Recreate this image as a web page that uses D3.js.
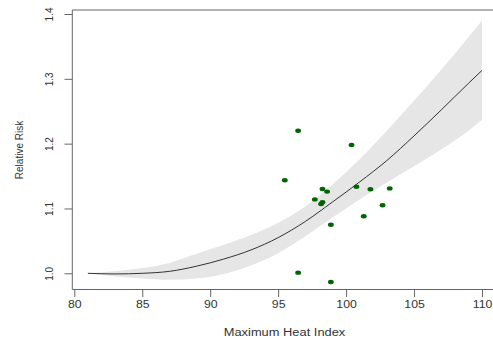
<!DOCTYPE html>
<html>
<head>
<meta charset="utf-8">
<script src="https://cdn.jsdelivr.net/npm/d3@7"></script>
<style>
  html, body { margin: 0; padding: 0; background: #fff; overflow: hidden; }
  text { font-family: "Liberation Sans", Arial, sans-serif; fill: #333; }
</style>
</head>
<body>
<div id="chart"></div>
<script>
// fitted curve and confidence band
const heatIndex = [81, 83, 85, 87, 89, 91, 93, 95, 97, 99, 101, 103, 105, 107, 109, 110];
const riskFit   = [1.000, 0.999, 1.000, 1.003, 1.011, 1.022, 1.036, 1.055, 1.080, 1.110, 1.141, 1.174, 1.212, 1.252, 1.293, 1.313];
const riskHigh  = [1.000, 1.003, 1.008, 1.016, 1.030, 1.044, 1.059, 1.078, 1.103, 1.137, 1.176, 1.220, 1.266, 1.314, 1.364, 1.390];
const riskLow   = [1.000, 0.995, 0.992, 0.990, 0.992, 0.999, 1.012, 1.031, 1.057, 1.086, 1.114, 1.140, 1.165, 1.191, 1.220, 1.237];

// observed points
const obsHeat = [96.47, 100.40, 95.49, 98.26, 98.60, 97.70, 98.26, 98.16, 100.76, 101.79, 103.21, 102.68, 101.30, 98.88, 96.47, 98.88];
const obsRisk = [1.220, 1.198, 1.1435, 1.130, 1.126, 1.114, 1.1096, 1.107, 1.1336, 1.1296, 1.131, 1.105, 1.088, 1.075, 1.001, 0.9866];

const xTicks = [80, 85, 90, 95, 100, 105, 110];
const yTicks = [1.0, 1.1, 1.2, 1.3, 1.4];

const width = 493, height = 338;
const stretch = 1.17; // picture is a bit wider than tall

const svg = d3.select("#chart").append("svg")
    .attr("width", width)
    .attr("height", height);

const x = d3.scaleLinear().domain([80, 110]).range([74.3, 482]);
const y = d3.scaleLinear().domain([1.0, 1.4]).range([273.3, 14]);

const box = { left: 72.3, top: 10, bottom: 289.5, right: 520 };

// band
const band = d3.area()
    .x((d, i) => x(heatIndex[i]))
    .y0((d, i) => y(riskLow[i]))
    .y1((d, i) => y(riskHigh[i]))
    .curve(d3.curveMonotoneX);

svg.append("path")
    .datum(heatIndex)
    .attr("d", band)
    .attr("fill", "#e6e6e6");

// fitted line
const line = d3.line()
    .x((d, i) => x(heatIndex[i]))
    .y((d, i) => y(riskFit[i]))
    .curve(d3.curveMonotoneX);

svg.append("path")
    .datum(heatIndex)
    .attr("d", line)
    .attr("fill", "none")
    .attr("stroke", "#333")
    .attr("stroke-width", 1);

// points
svg.selectAll(".pt")
    .data(obsHeat)
    .enter().append("ellipse")
    .attr("class", "pt")
    .attr("cx", (d) => x(d))
    .attr("cy", (d, i) => y(obsRisk[i]))
    .attr("rx", 2.9)
    .attr("ry", 2.2)
    .attr("fill", "#006400");

// box (right side is off the picture)
svg.append("path")
    .attr("d", "M" + box.right + "," + box.top + "H" + box.left + "V" + box.bottom + "H" + box.right)
    .attr("fill", "none")
    .attr("stroke", "#666")
    .attr("stroke-width", 1);

// x axis
const xAxis = svg.append("g")
    .attr("transform", "translate(0," + box.bottom + ")")
    .call(d3.axisBottom(x).tickValues(xTicks).tickSize(7.5).tickPadding(4).tickFormat(d3.format("d")));
xAxis.select(".domain").remove();
xAxis.selectAll("line").attr("stroke", "#666");
xAxis.selectAll("text")
    .attr("font-size", "10.5px")
    .attr("font-family", "Liberation Sans, Arial, sans-serif")
    .attr("fill", "#333")
    .attr("transform", "scale(" + stretch + ",1)");

// y axis
const yAxis = svg.append("g")
    .attr("transform", "translate(" + box.left + ",0)")
    .call(d3.axisLeft(y).tickValues(yTicks).tickSize(7.8).tickFormat(d3.format(".1f")));
yAxis.select(".domain").remove();
yAxis.selectAll("line").attr("stroke", "#666");
yAxis.selectAll("text")
    .attr("font-size", "10px")
    .attr("font-family", "Liberation Sans, Arial, sans-serif")
    .attr("fill", "#333")
    .attr("x", null)
    .attr("dy", null)
    .attr("text-anchor", "middle")
    .attr("transform", "translate(-19,0) scale(" + stretch + ",1) rotate(-90)");

// labels
svg.append("text")
    .attr("transform", "translate(284.5,335.5) scale(" + stretch + ",1)")
    .attr("text-anchor", "middle")
    .attr("font-size", "11px")
    .text("Maximum Heat Index");

svg.append("text")
    .attr("transform", "translate(22.5,150) scale(" + stretch + ",1) rotate(-90)")
    .attr("text-anchor", "middle")
    .attr("font-size", "10px")
    .text("Relative Risk");
</script>
</body>
</html>
